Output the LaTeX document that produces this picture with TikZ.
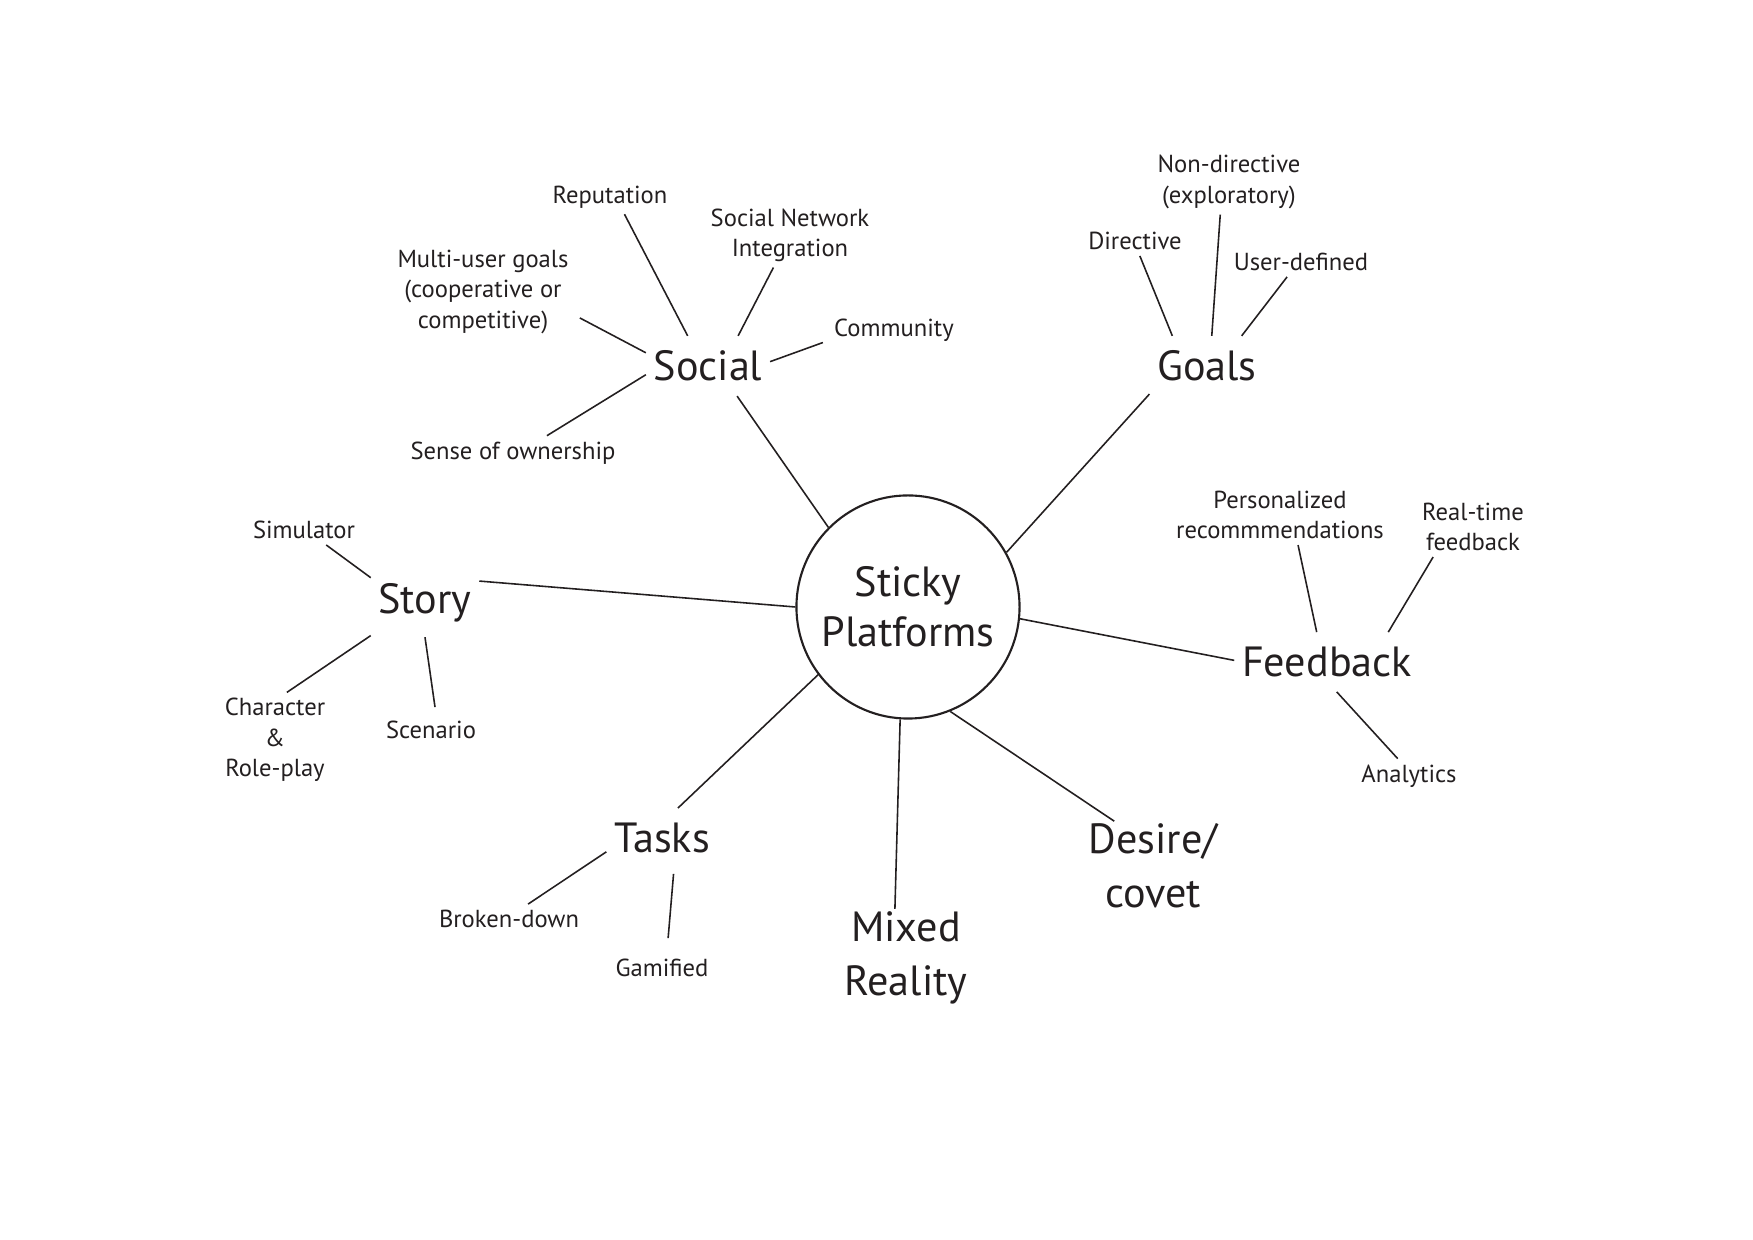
\documentclass[tikz,border=0pt]{standalone}
\usepackage{fontspec}
\setmainfont{PT Sans}
\usepackage{tikz}
\definecolor{ink}{HTML}{231F20}
\tikzstyle{mm_hub} = [circle, draw=ink, text=ink, line width=0.6pt, minimum size=2.23cm, inner sep=0pt, align=center, font=\fontsize{12}{14.3}\selectfont]
\tikzstyle{mm_main} = [text=ink, align=center, inner xsep=2pt, inner ysep=4pt, font=\fontsize{12}{15.3}\selectfont]
\tikzstyle{mm_sub} = [text=ink, align=center, inner xsep=3pt, inner ysep=1.5pt, font=\fontsize{7}{8.6}\selectfont]

\begin{document}
\begin{tikzpicture}[x=0.01cm, y=-0.01cm, draw=ink, line width=0.45pt]
\useasboundingbox (0,0) rectangle (1753,1240);
\node [mm_hub] (hub) at (908,607) {Sticky\\Platforms};
\node [mm_main] (social) at (708,366) {Social};
\node [mm_main] (goals) at (1207,366) {Goals};
\node [mm_main] (story) at (425,603) {Story};
\node [mm_main] (feedback) at (1327,662) {Feedback};
\node [mm_main] (tasks) at (662,838) {Tasks};
\node [mm_main] (mixed) at (906,958) {Mixed\\Reality};
\node [mm_main] (desire) at (1153,866) {Desire/\\covet};

\node [mm_sub] (reputation) at (610,197) {Reputation};
\node [mm_sub] (sni) at (790,235) {Social Network\\Integration};
\node [mm_sub] (community) at (894,330) {Community};
\node [mm_sub] (multiuser) at (483,292) {Multi-user goals\\(cooperative or\\competitive)};
\node [mm_sub] (ownership) at (513,453) {Sense of ownership};
\node [mm_sub] (directive) at (1135,241) {Directive};
\node [mm_sub] (nondirective) at (1229,182) {Non-directive\\(exploratory)};
\node [mm_sub] (userdef) at (1301,262) {User-defined};
\node [mm_sub] (simulator) at (304,530) {Simulator};
\node [mm_sub] (character) at (275,740) {Character\\\&\\Role-play};
\node [mm_sub] (scenario) at (431,730) {Scenario};
\node [mm_sub] (personal) at (1280,515) {Personalized\\recommmendations};
\node [mm_sub] (realtime) at (1473,527) {Real-time\\feedback};
\node [mm_sub] (analytics) at (1409,776) {Analytics};
\node [mm_sub] (broken) at (509,919) {Broken-down};
\node [mm_sub] (gamified) at (662,968) {Gamified};

\draw (hub.135) -- (social.-46);
\draw (hub.29.5) -- (goals.206);
\draw (hub.180) -- (story.22);
\draw (hub.-6.6) -- (feedback.179);
\draw (hub.217) -- (tasks.62);
\draw [shorten >=-0.12cm] (hub.266) -- (mixed.100);
\draw [shorten >=-0.22cm] (hub.292) -- (desire.135);

\draw (social.124) -- (reputation.-50);
\draw (social.45) -- (sni.-117);
\draw (social.4) -- (community.190);
\draw (social.168) -- (multiuser.-15);
\draw (social.188) -- (ownership.27);
\draw (goals.139) -- (directive.-72);
\draw (goals.81) -- (nondirective.-105);
\draw (goals.41.5) -- (userdef.-133);
\draw (story.155) -- (simulator.-34);
\draw (story.211) -- (character.76);
\draw [shorten >=0.08cm] (story.-90) -- (scenario.71);
\draw (feedback.109) -- (personal.-59);
\draw (feedback.26) -- (realtime.-143);
\draw (feedback.-72) -- (analytics.123);
\draw (tasks.194) -- (broken.38);
\draw [shorten <=0.06cm, shorten >=0.15cm] (tasks.-68.5) -- (gamified.72);
\end{tikzpicture}
\end{document}
